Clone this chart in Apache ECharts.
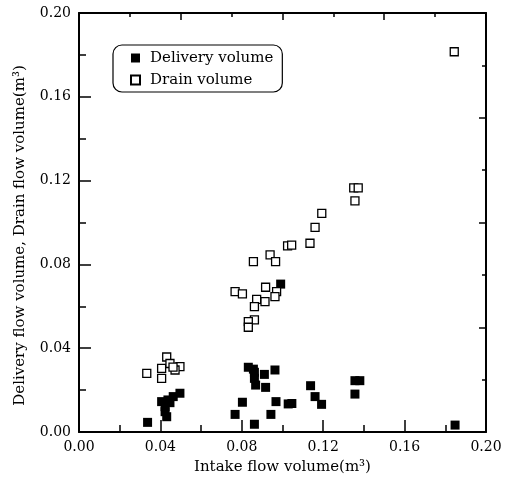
<!DOCTYPE html>
<html>
<head>
<meta charset="utf-8">
<script src="https://cdn.jsdelivr.net/npm/echarts@6/dist/echarts.min.js"></script>
<style>html,body{margin:0;padding:0;background:#fff;}#c{width:511px;height:482px;}</style>
</head>
<body>
<div id="c"></div>
<script>
// Delivery volume points [intake, delivery]
const deliveryPoints = [
  [0.0337, 0.0046], [0.0496, 0.0185], [0.0463, 0.0169], [0.0437, 0.0153],
  [0.0406, 0.0145], [0.0447, 0.0140], [0.0423, 0.0121], [0.0423, 0.0097],
  [0.0431, 0.0073],
  [0.0832, 0.0309], [0.0857, 0.0300], [0.0862, 0.0285], [0.0911, 0.0275],
  [0.0963, 0.0296], [0.0862, 0.0256], [0.0868, 0.0224], [0.0917, 0.0213],
  [0.0803, 0.0142], [0.0968, 0.0145], [0.1028, 0.0134], [0.1046, 0.0136],
  [0.0767, 0.0084], [0.0943, 0.0084], [0.0862, 0.0037], [0.1138, 0.0221],
  [0.1160, 0.0169], [0.1192, 0.0132], [0.1356, 0.0245], [0.1380, 0.0245],
  [0.1356, 0.0181], [0.0991, 0.0706], [0.1848, 0.0033]
];
// Drain volume points [intake, drain]
const drainPoints = [
  [0.0333, 0.0280], [0.0431, 0.0358], [0.0406, 0.0304], [0.0447, 0.0327],
  [0.0496, 0.0312], [0.0472, 0.0296], [0.0406, 0.0256], [0.0462, 0.0310],
  [0.0857, 0.0813], [0.0939, 0.0845], [0.0966, 0.0813], [0.0767, 0.0670],
  [0.0803, 0.0659], [0.0917, 0.0691], [0.0971, 0.0670], [0.0963, 0.0646],
  [0.0873, 0.0633], [0.0914, 0.0622], [0.0862, 0.0598], [0.0862, 0.0535],
  [0.0832, 0.0527], [0.0832, 0.0500], [0.1025, 0.0888], [0.1045, 0.0892],
  [0.1135, 0.0901], [0.1160, 0.0977], [0.1193, 0.1044], [0.1356, 0.1103],
  [0.1350, 0.1165], [0.1372, 0.1165], [0.1844, 0.1815]
];
const seriesNames = ['Delivery volume', 'Drain volume'];
const axisMin = 0, axisMax = 0.2, labelInterval = 0.04, frameInterval = 0.05;
const xName = 'Intake flow volume(m³)';
const yName = 'Delivery flow volume, Drain flow volume(m³)';

const FONT = 'DejaVu Serif';
const lineStyle = {color: '#000', width: 2};
function mainAxis(pos, name, gap, namePad) {
  return {
    type: 'value', position: pos, min: axisMin, max: axisMax, interval: labelInterval,
    name: name, nameLocation: 'middle', nameGap: gap,
    nameTextStyle: {fontFamily: FONT, fontSize: 15, color: '#000', padding: namePad},
    axisLine: {show: true, onZero: false, lineStyle: lineStyle},
    axisTick: {show: true, inside: true, length: 12, lineStyle: {color: '#000', width: 1.5}},
    minorTick: {show: true, splitNumber: 2, length: 7, lineStyle: {color: '#000', width: 1.5}},
    axisLabel: {show: true, margin: 8, fontFamily: FONT, fontSize: 14, color: '#000',
      formatter: v => v.toFixed(2)},
    splitLine: {show: false}, minorSplitLine: {show: false}
  };
}
function frameAxis(pos) {
  return {
    type: 'value', position: pos, min: axisMin, max: axisMax, interval: frameInterval,
    axisLine: {show: true, onZero: false, lineStyle: lineStyle},
    axisTick: {show: true, inside: true, length: 7, lineStyle: {color: '#000', width: 1.5}},
    minorTick: {show: true, splitNumber: 2, length: 4, lineStyle: {color: '#000', width: 1.5}},
    axisLabel: {show: false}, splitLine: {show: false}
  };
}
const chart = echarts.init(document.getElementById('c'), null, {renderer: 'canvas'});
chart.setOption({
  backgroundColor: '#fff',
  animation: false,
  grid: {left: 79, right: 25, top: 13, bottom: 50, containLabel: false},
  xAxis: [mainAxis('bottom', xName, 28, [0, 0, 0, 0]), frameAxis('top')],
  yAxis: [mainAxis('left', yName, 51, [0, 26, 0, 0]), frameAxis('right')],
  legend: {
    orient: 'vertical', left: 113, top: 45,
    padding: [5, 9, 4, 17], itemGap: 6, itemWidth: 9, itemHeight: 9,
    borderColor: '#000', borderWidth: 1.2, borderRadius: 9,
    textStyle: {fontFamily: FONT, fontSize: 15, color: '#000', lineHeight: 16, padding: [0, 0, 0, 5]},
    data: [
      {name: seriesNames[0], icon: 'rect'},
      {name: seriesNames[1], icon: 'rect'}
    ]
  },
  series: [
    {
      name: seriesNames[0], type: 'scatter', xAxisIndex: 0, yAxisIndex: 0,
      symbol: 'rect', symbolSize: 9, data: deliveryPoints,
      itemStyle: {color: '#000', opacity: 1}
    },
    {
      name: seriesNames[1], type: 'scatter', xAxisIndex: 0, yAxisIndex: 0,
      symbol: 'rect', symbolSize: 8, data: drainPoints,
      itemStyle: {color: '#fff', borderColor: '#000', borderWidth: 1.3, opacity: 1}
    }
  ]
});
</script>
</body>
</html>
